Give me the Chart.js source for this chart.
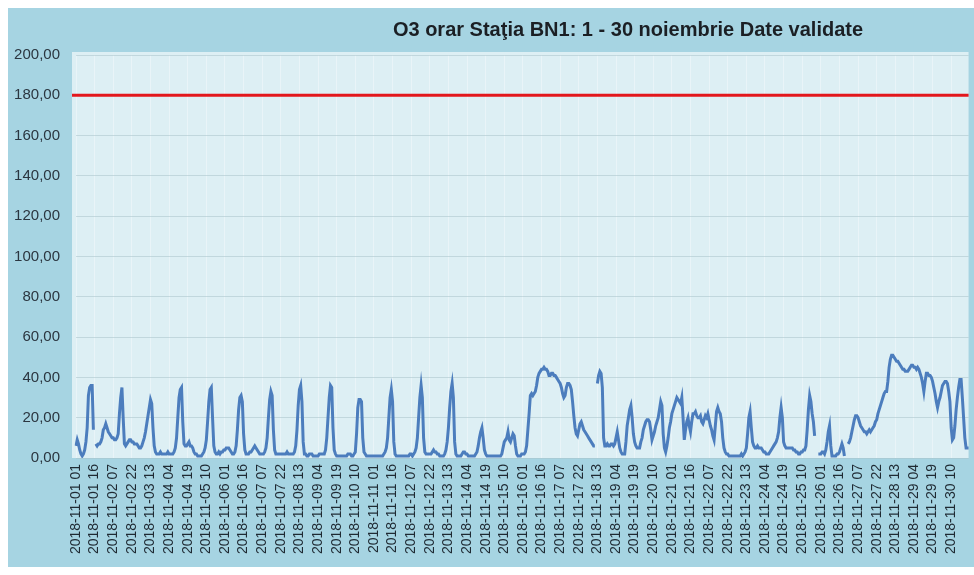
<!DOCTYPE html>
<html>
<head>
<meta charset="utf-8">
<script src="https://cdn.jsdelivr.net/npm/chart.js@4.4.1/dist/chart.umd.min.js"></script>
<style>
  html, body { margin: 0; padding: 0; background: #ffffff; }
  #wrap { width: 974px; height: 575px; }
</style>
</head>
<body>
<div id="wrap"><canvas id="grafica" width="974" height="575"></canvas></div>
<script>
const titlu = "O3 orar Staţia BN1: 1 - 30 noiembrie Date validate"

// ore 01..24 pentru fiecare zi din noiembrie
const zile = [], ore = []
for (let d = 1; d <= 30; d++) zile.push("2018-11-" + String(d).padStart(2, "0"))
for (let h = 1; h <= 24; h++) ore.push(String(h).padStart(2, "0"))

const categorii = []
zile.forEach(z => ore.forEach(h => categorii.push(z + " " + h)))

const pasEticheta = 15      // o eticheta la 15 ore, ca in grafic
const pragInformare = 180   // linia rosie

const yMin = 0, yMax = 200, yPas = 20

// valori O3 (ug/m3), cate un rand pe zi
const valoriO3 = [
  6,9,7,4,2,1,2,4,8,15,31,35,36,36,14,null,7,6,7,7,8,10,14,15,
  17,15,13,12,11,10,10,9,9,10,12,22,30,35,20,7,6,7,8,9,9,8,8,7,
  7,7,6,5,5,6,8,10,13,17,21,25,29,27,15,6,3,2,2,2,3,2,2,2,
  2,2,3,2,2,2,2,3,5,10,20,30,34,35,18,7,6,6,7,8,6,6,5,3,
  2,2,1,1,1,1,2,3,5,9,18,28,34,35,20,6,3,2,2,3,2,3,3,4,
  4,5,5,5,4,3,2,2,3,6,14,24,30,31,28,12,4,2,2,2,3,3,4,5,
  6,5,4,3,2,2,2,2,3,5,10,20,29,33,31,14,4,2,2,2,2,2,2,2,
  2,2,3,2,2,2,2,2,3,6,14,26,34,36,28,8,2,2,1,1,2,2,2,1,
  1,1,1,1,2,2,2,2,2,4,10,20,30,36,35,15,4,2,1,1,1,1,1,1,
  1,1,1,2,2,2,1,1,2,3,12,25,29,29,28,10,3,2,1,1,1,1,1,1,
  1,1,1,1,1,1,1,1,2,3,5,10,20,30,34,28,8,2,1,1,1,1,1,1,
  1,1,1,1,1,2,2,1,2,3,5,10,20,30,36,30,10,3,2,2,2,2,2,3,
  4,3,3,2,2,1,1,1,1,2,4,8,15,25,33,37,30,8,2,1,1,1,1,2,
  3,3,2,2,1,1,1,1,1,1,2,3,6,10,13,15,10,4,2,1,1,1,1,1,
  1,1,1,1,1,1,1,2,5,8,9,10,13,9,8,10,12,11,6,2,1,1,1,2,
  2,2,3,6,14,22,31,32,31,32,33,36,40,42,43,44,44,45,44,44,43,41,41,42,
  42,41,41,40,39,38,37,35,32,30,31,35,37,37,36,34,28,21,15,12,11,14,17,18,
  16,14,13,12,11,10,9,8,7,6,6,null,37,41,43,42,35,10,6,6,7,6,6,7,
  7,6,7,10,13,9,5,3,2,2,2,8,16,20,24,26,20,12,8,6,5,5,5,8,
  10,14,16,18,19,19,18,14,9,11,13,16,18,20,24,28,26,12,5,3,6,10,15,18,
  22,24,26,28,30,29,28,27,30,20,9,14,18,20,16,13,18,22,22,23,21,20,20,21,
  18,17,19,21,20,22,19,16,14,11,9,16,23,25,23,22,18,10,5,3,2,2,1,1,
  1,1,1,1,1,1,1,1,2,1,2,3,5,12,20,23,15,8,6,5,5,6,5,5,
  5,4,3,3,2,2,2,3,4,5,6,7,8,10,13,20,25,20,8,6,5,5,5,5,
  5,5,4,4,3,3,2,2,3,3,4,4,6,14,24,31,28,22,18,11,null,null,2,2,
  2,3,3,2,4,8,13,16,6,1,1,1,1,2,2,3,5,7,5,1,null,null,7,8,
  10,13,16,19,21,21,20,18,16,15,14,13,13,12,13,14,13,14,15,16,18,19,22,24,
  26,28,30,32,33,33,38,45,49,51,51,50,49,48,48,47,46,45,44,44,43,43,43,44,
  45,46,46,45,45,44,45,44,42,40,37,33,38,42,42,41,41,40,38,35,32,28,25,28,
  30,33,36,37,38,38,37,33,28,15,9,10,16,24,30,35,39,39,30,20,10,5,5,5
]

const ctx = document.getElementById('grafica').getContext('2d')

// fundal: alb, cadru albastru, zona graficului deschisa
const fundal = {
    id: 'fundal',
    beforeDraw(chart) {
        const c = chart.ctx, a = chart.chartArea
        c.save()
        c.fillStyle = '#ffffff'
        c.fillRect(0, 0, chart.width, chart.height)
        c.fillStyle = '#a6d4e2'
        c.fillRect(8, 8, chart.width - 8, chart.height - 16)
        c.fillStyle = '#ddeff4'
        c.fillRect(a.left - 4, a.top - 3, a.right - a.left + 4, a.bottom - a.top + 3)
        c.restore()
    }
}

// linia rosie la 180 + titlul
const prag = {
    id: 'prag',
    beforeDatasetsDraw(chart) {
        const c = chart.ctx, a = chart.chartArea
        const y = chart.scales.y.getPixelForValue(pragInformare)
        c.save()
        c.strokeStyle = '#e3171d'
        c.lineWidth = 3
        c.beginPath()
        c.moveTo(a.left - 4, y)
        c.lineTo(a.right, y)
        c.stroke()
        c.restore()
    },
    afterDraw(chart) {
        const c = chart.ctx
        c.save()
        c.fillStyle = '#1b1f24'
        c.font = 'bold 20px "Liberation Sans", Arial, sans-serif'
        c.textAlign = 'center'
        c.textBaseline = 'middle'
        c.fillText(titlu, 628, 30)
        c.restore()
    }
}

new Chart(ctx, {
    type: 'line',
    data: {
        labels: categorii,
        datasets: [{
            label: 'O3',
            data: valoriO3,
            borderColor: '#4c7dbd',
            borderWidth: 3,
            pointRadius: 0,
            tension: 0,
            spanGaps: false
        }]
    },
    options: {
        responsive: false,
        animation: false,
        layout: { padding: { left: 8, top: 55, right: 1, bottom: 8 } },
        plugins: {
            legend: { display: false },
            tooltip: { enabled: false }
        },
        scales: {
            x: {
                offset: false,
                grid: { color: 'rgba(255,255,255,0.35)', drawTicks: false },
                border: { display: false },
                afterFit: s => { s.height = 109 },
                ticks: {
                    autoSkip: false,
                    minRotation: 90,
                    maxRotation: 90,
                    padding: 6,
                    color: '#1f2a33',
                    font: { family: '"Liberation Sans", Arial, sans-serif', size: 14 },
                    callback: (v, i) => i % pasEticheta === 0 ? categorii[i] : null
                }
            },
            y: {
                min: yMin,
                max: yMax,
                grid: { color: 'rgba(170,195,202,0.55)', drawTicks: false },
                border: { display: false },
                afterFit: s => { s.width = 68 },
                ticks: {
                    stepSize: yPas,
                    padding: 16,
                    color: '#2b3640',
                    font: { family: '"Liberation Sans", Arial, sans-serif', size: 15 },
                    callback: v => v.toFixed(2).replace('.', ',')
                }
            }
        }
    },
    plugins: [fundal, prag]
})
</script>
</body>
</html>
